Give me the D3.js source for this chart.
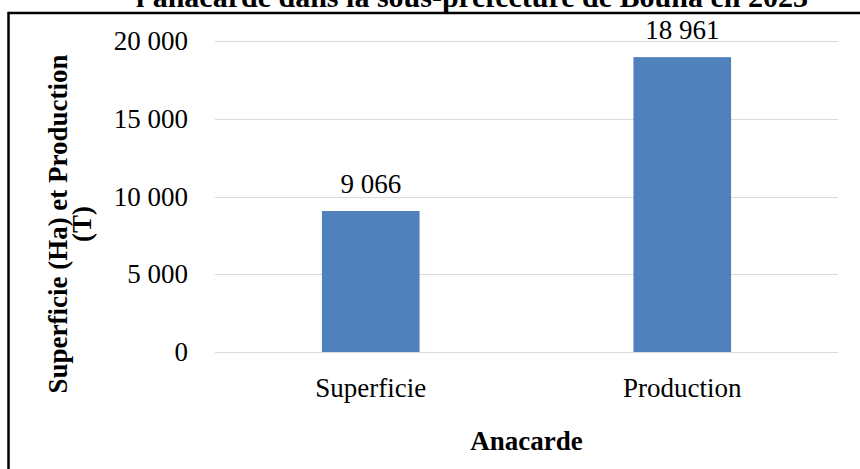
<!DOCTYPE html>
<html>
<head>
<meta charset="utf-8">
<script src="https://cdn.jsdelivr.net/npm/d3@7"></script>
<style>
  body { margin: 0; background: #fff; }
  svg { display: block; font-family: "Liberation Serif", "Times New Roman", serif; }
</style>
</head>
<body>
<div id="chart"></div>
<script>
  // data
  const categories = ["Superficie", "Production"];
  const values = [9066, 18961];
  const yTicks = [0, 5000, 10000, 15000, 20000];
  const titleText = "l'anacarde dans la sous-préfecture de Bouna en 2023";
  const yTitleLines = ["Superficie (Ha) et Production", "(T)"];
  const xTitle = "Anacarde";

  const width = 860, height = 469;
  const plot = { left: 215, right: 838, top: 41, bottom: 352 };

  const fmt = d => d3.format(",")(d).replace(/,/g, " ");

  const svg = d3.select("#chart").append("svg")
    .attr("width", width)
    .attr("height", height);

  // chart border (runs off the right and bottom)
  svg.append("rect")
    .attr("x", 8.5).attr("y", 13)
    .attr("width", 900).attr("height", 500)
    .attr("fill", "none")
    .attr("stroke", "#000")
    .attr("stroke-width", 2.5);

  // title, cut by the top edge in the reference too
  svg.append("text")
    .attr("x", 472).attr("y", 7)
    .attr("text-anchor", "middle")
    .attr("font-size", "30px")
    .attr("font-weight", "bold")
    .text(titleText);

  const x = d3.scaleBand()
    .domain(categories)
    .range([plot.left, plot.right]);

  const y = d3.scaleLinear()
    .domain([0, 20000])
    .range([plot.bottom, plot.top]);

  // gridlines
  svg.append("g")
    .selectAll("line")
    .data(yTicks)
    .join("line")
    .attr("x1", plot.left).attr("x2", plot.right)
    .attr("y1", d => Math.round(y(d)) + 0.5)
    .attr("y2", d => Math.round(y(d)) + 0.5)
    .attr("stroke", "#d9d9d9")
    .attr("stroke-width", 1.2);

  // y tick labels
  svg.append("g")
    .selectAll("text")
    .data(yTicks)
    .join("text")
    .attr("x", 188)
    .attr("y", d => y(d) + 9)
    .attr("text-anchor", "end")
    .attr("font-size", "27px")
    .text(fmt);

  const barW = x.bandwidth() / 3.19;

  svg.append("g")
    .attr("fill", "#4f81bd")
    .selectAll("rect")
    .data(values)
    .join("rect")
    .attr("x", (d, i) => x(categories[i]) + (x.bandwidth() - barW) / 2)
    .attr("y", d => y(d))
    .attr("width", barW)
    .attr("height", d => y(0) - y(d));

  // value labels
  svg.append("g")
    .selectAll("text")
    .data(values)
    .join("text")
    .attr("x", (d, i) => x(categories[i]) + x.bandwidth() / 2)
    .attr("y", d => y(d) - 18)
    .attr("text-anchor", "middle")
    .attr("font-size", "27px")
    .text(fmt);

  // category labels
  svg.append("g")
    .selectAll("text")
    .data(categories)
    .join("text")
    .attr("x", d => x(d) + x.bandwidth() / 2)
    .attr("y", 397)
    .attr("text-anchor", "middle")
    .attr("font-size", "27px")
    .text(d => d);

  // x axis title
  svg.append("text")
    .attr("x", (plot.left + plot.right) / 2)
    .attr("y", 450)
    .attr("text-anchor", "middle")
    .attr("font-size", "27px")
    .attr("font-weight", "bold")
    .text(xTitle);

  // y axis title, two lines rotated
  const yt = svg.append("text")
    .attr("transform", "translate(67,224) rotate(-90)")
    .attr("text-anchor", "middle")
    .attr("font-size", "27px")
    .attr("font-weight", "bold");
  yt.selectAll("tspan")
    .data(yTitleLines)
    .join("tspan")
    .attr("x", 0)
    .attr("dy", (d, i) => i === 0 ? 0 : 24)
    .text(d => d);
</script>
</body>
</html>
